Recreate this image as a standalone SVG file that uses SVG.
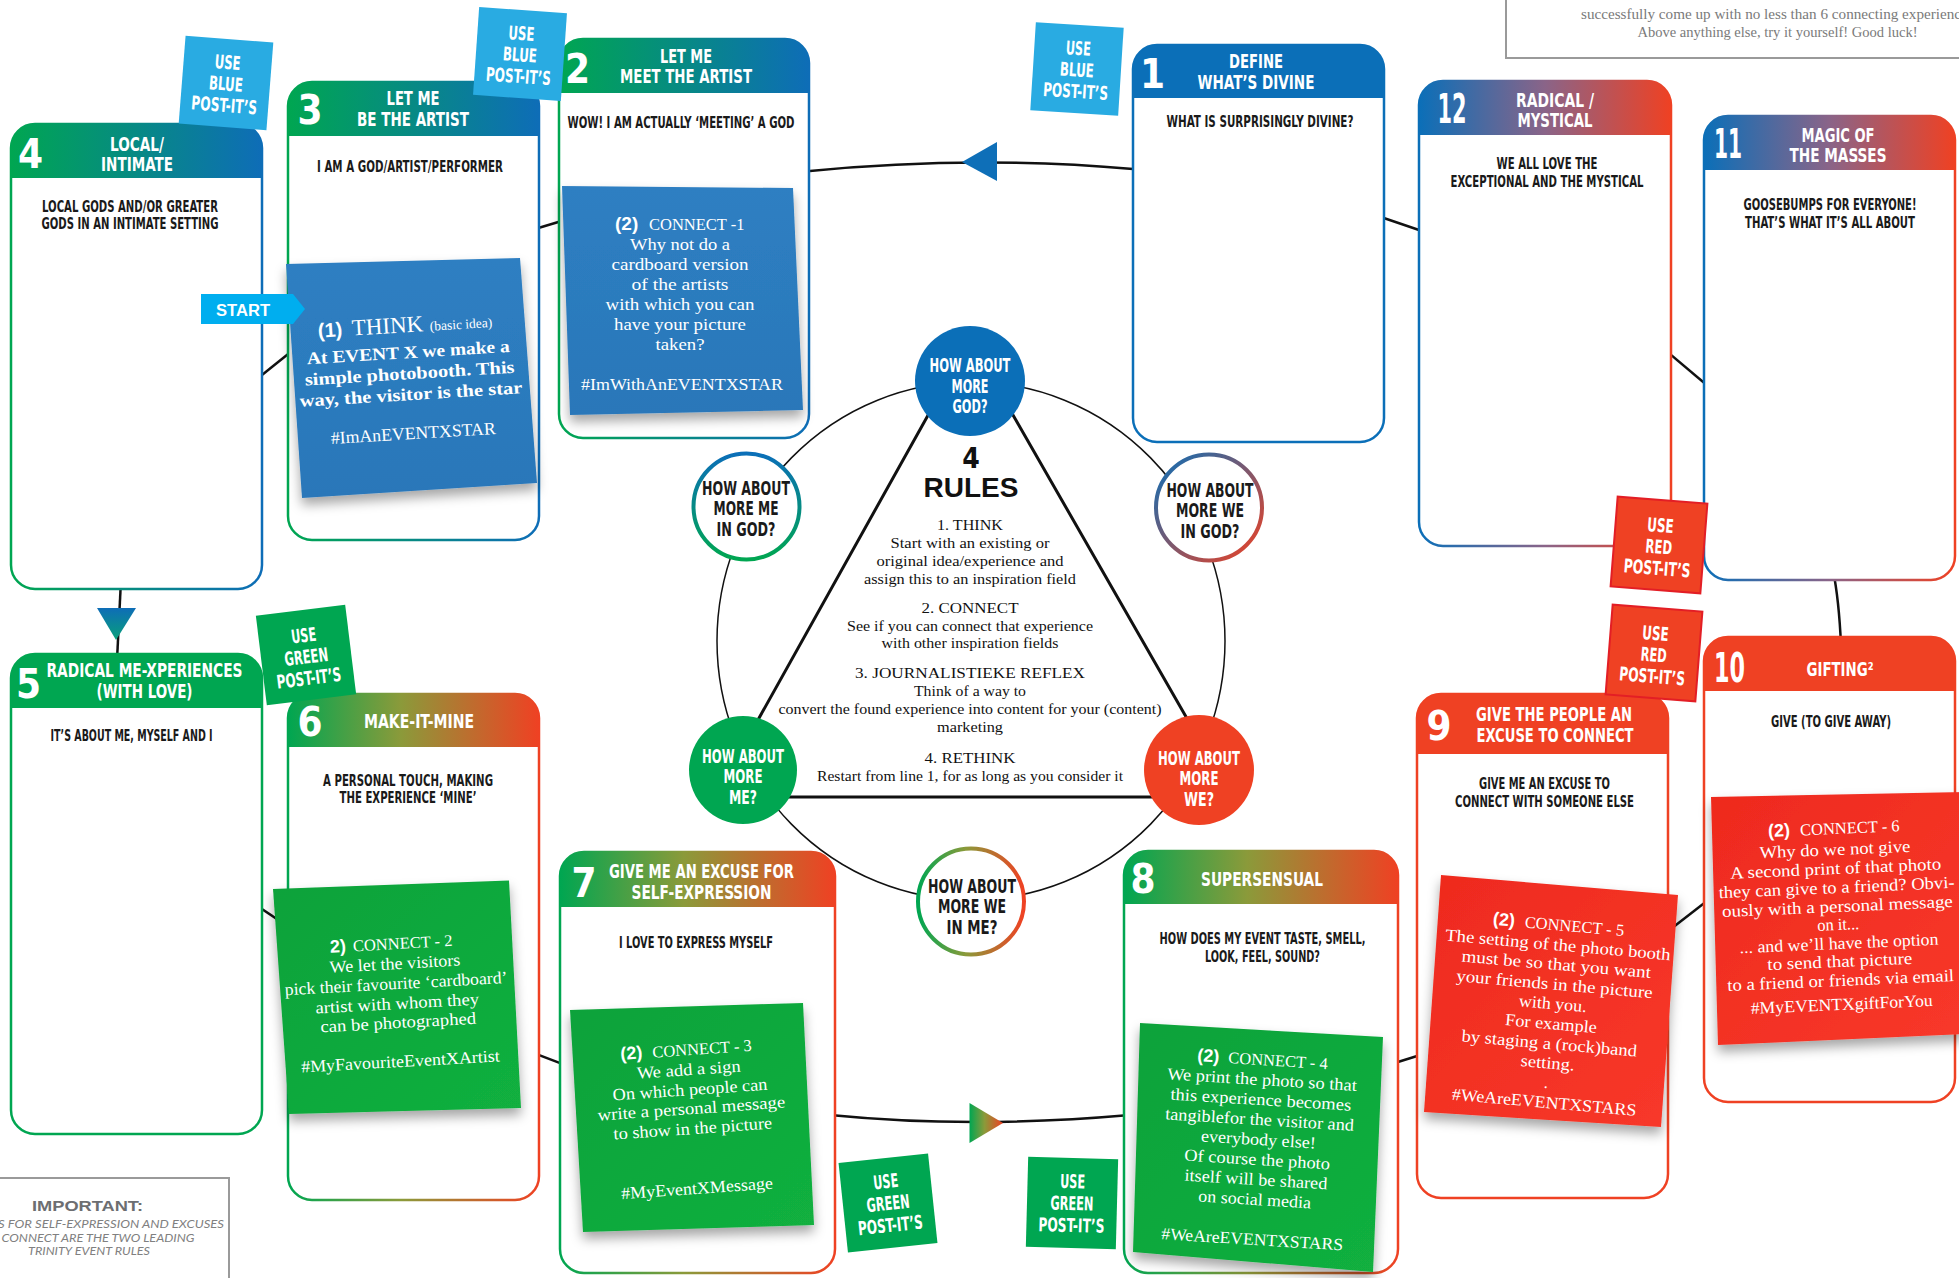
<svg xmlns="http://www.w3.org/2000/svg" width="1959" height="1278" viewBox="0 0 1959 1278">
<style>
.c{font-family:"Liberation Sans Narrow","DejaVu Sans Condensed","Liberation Sans",sans-serif;font-weight:700}
.w{fill:#fff}
.k{fill:#1a1a1a}
.n{font-size:40px}
.t{font-size:19px}
.u{font-size:15.5px}
.m{text-anchor:middle}
.e{text-anchor:end}
.sf{font-family:"Liberation Serif","DejaVu Serif",serif}
.pb{font-family:"Liberation Sans","DejaVu Sans",sans-serif;font-weight:700}
.p{font-size:17px}
.lab{font-size:19px}
.card{fill:#fff;stroke-width:2.5}
.ln{fill:none;stroke:#111;stroke-width:2.5}
.note{filter:url(#sh)}
.lb{fill:#29abe2}
.lg{fill:#00a651}
.lr{fill:#ef4123;stroke:#e31e25;stroke-width:2}
.nd{font-size:19px}
</style>
<defs>
<linearGradient id="gGB" x1="0" y1="0" x2="1" y2="0"><stop offset="0" stop-color="#00a651"/><stop offset="1" stop-color="#0e6db7"/></linearGradient>
<linearGradient id="gBR" x1="0" y1="0" x2="1" y2="0"><stop offset="0" stop-color="#0b6fb8"/><stop offset="0.5" stop-color="#8a6488"/><stop offset="1" stop-color="#ef4123"/></linearGradient>
<linearGradient id="gGR" x1="0" y1="0" x2="1" y2="0"><stop offset="0" stop-color="#00a651"/><stop offset="0.45" stop-color="#8b9a3a"/><stop offset="1" stop-color="#ef4123"/></linearGradient>
<linearGradient id="gVBG" x1="0" y1="0" x2="0" y2="1"><stop offset="0" stop-color="#0b6fb8"/><stop offset="1" stop-color="#00a651"/></linearGradient>
<linearGradient id="gDBR" x1="0" y1="0" x2="1" y2="1"><stop offset="0" stop-color="#0b6fb8"/><stop offset="1" stop-color="#ef4123"/></linearGradient>
<linearGradient id="gArrD" x1="0" y1="0" x2="0" y2="1"><stop offset="0" stop-color="#0e6db7"/><stop offset="1" stop-color="#08a07a"/></linearGradient>
<linearGradient id="pBlue" x1="0" y1="0" x2="0" y2="1"><stop offset="0" stop-color="#2e7fc2"/><stop offset="1" stop-color="#2a77b9"/></linearGradient>
<linearGradient id="pGreen" x1="0" y1="0" x2="1" y2="1"><stop offset="0" stop-color="#0ba23a"/><stop offset="1" stop-color="#12b03f"/></linearGradient>
<linearGradient id="pRed" x1="0" y1="0" x2="1" y2="1"><stop offset="0" stop-color="#ee2a1e"/><stop offset="1" stop-color="#f8382a"/></linearGradient>
<filter id="sh" x="-10%" y="-10%" width="125%" height="130%"><feDropShadow dx="0" dy="7" stdDeviation="6" flood-color="#000" flood-opacity="0.35"/></filter>
</defs>
<rect width="1959" height="1278" fill="#fff"/>

<!-- info boxes -->
<g id="info-top">
<rect x="1506" y="-5" width="465" height="63" fill="none" stroke="#9a9a9a" stroke-width="2"/>
<text class="sf" x="1581" y="19" font-size="14" fill="#7a7a7a" textLength="380" lengthAdjust="spacingAndGlyphs">successfully come up with no less than 6 connecting experienc</text>
<text class="sf m" x="1777.5" y="37" font-size="14" fill="#7a7a7a" textLength="280" lengthAdjust="spacingAndGlyphs">Above anything else, try it yourself! Good luck!</text>
</g>
<g id="info-important">
<rect x="-5" y="1178" width="234" height="110" fill="none" stroke="#9a9a9a" stroke-width="2"/>
<text class="pb m" x="87.5" y="1211" font-size="15" fill="#6d6e71" textLength="111" lengthAdjust="spacingAndGlyphs">IMPORTANT:</text>
<text x="224" y="1228" font-family="Lato,'Liberation Sans',sans-serif" font-style="italic" font-size="11" fill="#808080" text-anchor="end" textLength="226" lengthAdjust="spacingAndGlyphs">S FOR SELF-EXPRESSION AND EXCUSES</text>
<text x="98" y="1242" font-family="Lato,'Liberation Sans',sans-serif" font-style="italic" font-size="11" fill="#808080" text-anchor="middle" textLength="193" lengthAdjust="spacingAndGlyphs">CONNECT ARE THE TWO LEADING</text>
<text x="89" y="1254.5" font-family="Lato,'Liberation Sans',sans-serif" font-style="italic" font-size="11" fill="#808080" text-anchor="middle" textLength="122" lengthAdjust="spacingAndGlyphs">TRINITY EVENT RULES</text>
</g>

<!-- connectors -->
<g id="connectors">
<path class="ln" d="M1133,169 Q971,155 810,171"/>
<line class="ln" x1="570" y1="218.5" x2="525" y2="232"/>
<line class="ln" x1="300" y1="344.6" x2="250" y2="384.6"/>
<line class="ln" x1="121" y1="580" x2="117" y2="660"/>
<line class="ln" x1="250" y1="901" x2="290" y2="927.7"/>
<line class="ln" x1="530" y1="1051.6" x2="570" y2="1066.8"/>
<path class="ln" d="M830,1115 Q971,1129 1130,1115"/>
<line class="ln" x1="1385" y1="1066" x2="1430" y2="1052"/>
<line class="ln" x1="1665" y1="933.6" x2="1715" y2="894.7"/>
<path class="ln" d="M1841,645 Q1839,600 1833,570"/>
<line class="ln" x1="1715" y1="392" x2="1660" y2="345.6"/>
<line class="ln" x1="1430" y1="233.8" x2="1372" y2="214"/>
<polygon points="962,162 997,142 997,181" fill="#0e6fb8"/>
<polygon points="97,608 136,608 116,640" fill="url(#gArrD)"/>
<polygon points="969.5,1103 1003,1123 969.5,1143" fill="url(#gGR)"/>
</g>

<!-- central diagram -->
<g id="rules-circle">
<ellipse cx="971" cy="641" rx="254" ry="259" fill="none" stroke="#111" stroke-width="1.5"/>
<polygon points="970,340 715,797 1232,797" fill="none" stroke="#111" stroke-width="3"/>
</g>
<g id="node-more-god">
<circle cx="970" cy="381" r="55" fill="#0b6fb8"/>
<g class="c w m nd">
<text x="970" y="372" textLength="81" lengthAdjust="spacingAndGlyphs">HOW ABOUT</text>
<text x="970" y="392.5" textLength="37" lengthAdjust="spacingAndGlyphs">MORE</text>
<text x="970" y="413" textLength="35" lengthAdjust="spacingAndGlyphs">GOD?</text>
</g>
</g>
<g id="node-more-me-in-god">
<circle cx="746.5" cy="506.5" r="53" fill="#fff" stroke="url(#gVBG)" stroke-width="4"/>
<g class="c k m nd">
<text x="746" y="494.5" textLength="88" lengthAdjust="spacingAndGlyphs">HOW ABOUT</text>
<text x="746" y="515" textLength="65" lengthAdjust="spacingAndGlyphs">MORE ME</text>
<text x="746" y="535.5" textLength="59" lengthAdjust="spacingAndGlyphs">IN GOD?</text>
</g>
</g>
<g id="node-more-we-in-god">
<circle cx="1209" cy="507.5" r="53" fill="#fff" stroke="url(#gDBR)" stroke-width="4"/>
<g class="c k m nd">
<text x="1210" y="496.5" textLength="87" lengthAdjust="spacingAndGlyphs">HOW ABOUT</text>
<text x="1210" y="517" textLength="68" lengthAdjust="spacingAndGlyphs">MORE WE</text>
<text x="1210" y="537.5" textLength="59" lengthAdjust="spacingAndGlyphs">IN GOD?</text>
</g>
</g>
<g id="node-more-me">
<circle cx="743" cy="770" r="54" fill="#00a651"/>
<g class="c w m nd">
<text x="743" y="762.5" textLength="82" lengthAdjust="spacingAndGlyphs">HOW ABOUT</text>
<text x="743" y="783" textLength="39" lengthAdjust="spacingAndGlyphs">MORE</text>
<text x="743" y="803.5" textLength="28" lengthAdjust="spacingAndGlyphs">ME?</text>
</g>
</g>
<g id="node-more-we">
<circle cx="1199" cy="770" r="55" fill="#ef4123"/>
<g class="c w m nd">
<text x="1199" y="764.5" textLength="82" lengthAdjust="spacingAndGlyphs">HOW ABOUT</text>
<text x="1199" y="785" textLength="39" lengthAdjust="spacingAndGlyphs">MORE</text>
<text x="1199" y="805.5" textLength="30" lengthAdjust="spacingAndGlyphs">WE?</text>
</g>
</g>
<g id="node-more-we-in-me">
<circle cx="971" cy="901.5" r="53" fill="#fff" stroke="url(#gGR)" stroke-width="4"/>
<g class="c k m nd">
<text x="972" y="892.5" textLength="88" lengthAdjust="spacingAndGlyphs">HOW ABOUT</text>
<text x="972" y="913" textLength="68" lengthAdjust="spacingAndGlyphs">MORE WE</text>
<text x="972" y="933.5" textLength="51" lengthAdjust="spacingAndGlyphs">IN ME?</text>
</g>
</g>
<g id="rules-text" class="m" fill="#111">
<text class="c" x="971" y="468" font-size="28">4</text>
<text class="pb" x="971" y="497" font-size="28" textLength="95" lengthAdjust="spacingAndGlyphs">RULES</text>
<g class="sf">
<text x="970" y="530" font-size="15.5" textLength="66" lengthAdjust="spacingAndGlyphs">1. THINK</text>
<text x="970" y="548" font-size="14" textLength="159" lengthAdjust="spacingAndGlyphs">Start with an existing or</text>
<text x="970" y="566" font-size="14" textLength="187" lengthAdjust="spacingAndGlyphs">original idea/experience and</text>
<text x="970" y="584" font-size="14" textLength="212" lengthAdjust="spacingAndGlyphs">assign this to an inspiration field</text>
<text x="970" y="613" font-size="15.5" textLength="97" lengthAdjust="spacingAndGlyphs">2. CONNECT</text>
<text x="970" y="631" font-size="14" textLength="246" lengthAdjust="spacingAndGlyphs">See if you can connect that experience</text>
<text x="970" y="648" font-size="14" textLength="177" lengthAdjust="spacingAndGlyphs">with other inspiration fields</text>
<text x="970" y="678" font-size="15.5" textLength="230" lengthAdjust="spacingAndGlyphs">3. JOURNALISTIEKE REFLEX</text>
<text x="970" y="696" font-size="14" textLength="112" lengthAdjust="spacingAndGlyphs">Think of a way to</text>
<text x="970" y="714" font-size="14" textLength="383" lengthAdjust="spacingAndGlyphs">convert the found experience into content for your (content)</text>
<text x="970" y="732" font-size="14" textLength="66" lengthAdjust="spacingAndGlyphs">marketing</text>
<text x="970" y="763" font-size="15.5" textLength="91" lengthAdjust="spacingAndGlyphs">4. RETHINK</text>
<text x="970" y="781" font-size="14" textLength="306" lengthAdjust="spacingAndGlyphs">Restart from line 1, for as long as you consider it</text>
</g>
</g>

<!-- cards -->
<g id="card-4">
<rect class="card" x="11" y="124" width="251" height="465" rx="24" stroke="url(#gGB)"/>
<path d="M11,178 V148 A24,24 0 0 1 35,124 H238 A24,24 0 0 1 262,148 V178 Z" fill="url(#gGB)"/>
<text class="c w n m" x="30.5" y="168">4</text>
<text class="c w t m" x="137" y="150.5" textLength="54" lengthAdjust="spacingAndGlyphs">LOCAL/</text>
<text class="c w t m" x="137" y="171" textLength="72" lengthAdjust="spacingAndGlyphs">INTIMATE</text>
<text class="c k u m" x="130" y="211.5" textLength="176" lengthAdjust="spacingAndGlyphs">LOCAL GODS AND/OR GREATER</text>
<text class="c k u m" x="130" y="229" textLength="177" lengthAdjust="spacingAndGlyphs">GODS IN AN INTIMATE SETTING</text>
</g>
<g id="card-3">
<rect class="card" x="288" y="82" width="251" height="458" rx="24" stroke="url(#gGB)"/>
<path d="M288,136 V106 A24,24 0 0 1 312,82 H515 A24,24 0 0 1 539,106 V136 Z" fill="url(#gGB)"/>
<text class="c w n m" x="310" y="124">3</text>
<text class="c w t m" x="413" y="105" textLength="53" lengthAdjust="spacingAndGlyphs">LET ME</text>
<text class="c w t m" x="413" y="126" textLength="112" lengthAdjust="spacingAndGlyphs">BE THE ARTIST</text>
<text class="c k u m" x="410" y="172" textLength="186" lengthAdjust="spacingAndGlyphs">I AM A GOD/ARTIST/PERFORMER</text>
</g>
<g id="card-2">
<rect class="card" x="559" y="39" width="250" height="399" rx="24" stroke="url(#gGB)"/>
<path d="M559,93 V63 A24,24 0 0 1 583,39 H785 A24,24 0 0 1 809,63 V93 Z" fill="url(#gGB)"/>
<text class="c w n m" x="577.6" y="83">2</text>
<text class="c w t m" x="686" y="62.5" textLength="52" lengthAdjust="spacingAndGlyphs">LET ME</text>
<text class="c w t m" x="686" y="83" textLength="132" lengthAdjust="spacingAndGlyphs">MEET THE ARTIST</text>
<text class="c k u m" x="681" y="128" textLength="227" lengthAdjust="spacingAndGlyphs">WOW! I AM ACTUALLY ‘MEETING’ A GOD</text>
</g>
<g id="card-1">
<rect class="card" x="1133" y="45" width="251" height="397" rx="24" stroke="#0b6fb8"/>
<path d="M1133,98 V69 A24,24 0 0 1 1157,45 H1360 A24,24 0 0 1 1384,69 V98 Z" fill="#0b6fb8"/>
<text class="c w n m" x="1152.5" y="88">1</text>
<text class="c w t m" x="1256" y="68" textLength="54" lengthAdjust="spacingAndGlyphs">DEFINE</text>
<text class="c w t m" x="1256" y="89" textLength="117" lengthAdjust="spacingAndGlyphs">WHAT’S DIVINE</text>
<text class="c k u m" x="1260" y="127" textLength="187" lengthAdjust="spacingAndGlyphs">WHAT IS SURPRISINGLY DIVINE?</text>
</g>
<g id="card-12">
<rect class="card" x="1419" y="81" width="252" height="465" rx="24" stroke="url(#gBR)"/>
<path d="M1419,135 V105 A24,24 0 0 1 1443,81 H1647 A24,24 0 0 1 1671,105 V135 Z" fill="url(#gBR)"/>
<text class="c w n m" x="1452" y="123" textLength="29" lengthAdjust="spacingAndGlyphs">12</text>
<text class="c w t m" x="1555" y="106.5" textLength="78" lengthAdjust="spacingAndGlyphs">RADICAL /</text>
<text class="c w t m" x="1555" y="127" textLength="75" lengthAdjust="spacingAndGlyphs">MYSTICAL</text>
<text class="c k u m" x="1547" y="168.5" textLength="101" lengthAdjust="spacingAndGlyphs">WE ALL LOVE THE</text>
<text class="c k u m" x="1547" y="186.5" textLength="193" lengthAdjust="spacingAndGlyphs">EXCEPTIONAL AND THE MYSTICAL</text>
</g>
<g id="card-11">
<rect class="card" x="1704" y="116" width="251" height="464" rx="24" stroke="url(#gBR)"/>
<path d="M1704,170 V140 A24,24 0 0 1 1728,116 H1931 A24,24 0 0 1 1955,140 V170 Z" fill="url(#gBR)"/>
<text class="c w n m" x="1728" y="158" textLength="28" lengthAdjust="spacingAndGlyphs">11</text>
<text class="c w t m" x="1838" y="141.5" textLength="73" lengthAdjust="spacingAndGlyphs">MAGIC OF</text>
<text class="c w t m" x="1838" y="162" textLength="97" lengthAdjust="spacingAndGlyphs">THE MASSES</text>
<text class="c k u m" x="1830" y="209.5" textLength="173" lengthAdjust="spacingAndGlyphs">GOOSEBUMPS FOR EVERYONE!</text>
<text class="c k u m" x="1830" y="227.5" textLength="170" lengthAdjust="spacingAndGlyphs">THAT’S WHAT IT’S ALL ABOUT</text>
</g>
<g id="card-10">
<rect class="card" x="1704" y="637" width="251" height="465" rx="24" stroke="#ef4123"/>
<path d="M1704,691 V661 A24,24 0 0 1 1728,637 H1931 A24,24 0 0 1 1955,661 V691 Z" fill="#ef4123"/>
<text class="c w n m" x="1729.5" y="682" textLength="31" lengthAdjust="spacingAndGlyphs">10</text>
<text class="c w t" x="1806.5" y="676" textLength="67" lengthAdjust="spacingAndGlyphs">GIFTING²</text>
<text class="c k u m" x="1831" y="727" textLength="120" lengthAdjust="spacingAndGlyphs">GIVE (TO GIVE AWAY)</text>
</g>
<g id="card-9">
<rect class="card" x="1417" y="694" width="251" height="504" rx="24" stroke="#ef4123"/>
<path d="M1417,754 V718 A24,24 0 0 1 1441,694 H1644 A24,24 0 0 1 1668,718 V754 Z" fill="#ef4123"/>
<text class="c w n m" x="1439" y="740">9</text>
<text class="c w t m" x="1554" y="721" textLength="156" lengthAdjust="spacingAndGlyphs">GIVE THE PEOPLE AN</text>
<text class="c w t m" x="1555" y="741.5" textLength="157" lengthAdjust="spacingAndGlyphs">EXCUSE TO CONNECT</text>
<text class="c k u m" x="1544.5" y="789" textLength="131" lengthAdjust="spacingAndGlyphs">GIVE ME AN EXCUSE TO</text>
<text class="c k u m" x="1544.5" y="807" textLength="179" lengthAdjust="spacingAndGlyphs">CONNECT WITH SOMEONE ELSE</text>
</g>
<g id="card-8">
<rect class="card" x="1124" y="851" width="274" height="422" rx="24" stroke="url(#gGR)"/>
<path d="M1124,904 V875 A24,24 0 0 1 1148,851 H1374 A24,24 0 0 1 1398,875 V904 Z" fill="url(#gGR)"/>
<text class="c w n m" x="1143" y="893">8</text>
<text class="c w t m" x="1262" y="886" textLength="122" lengthAdjust="spacingAndGlyphs">SUPERSENSUAL</text>
<text class="c k u m" x="1262.5" y="944" textLength="206" lengthAdjust="spacingAndGlyphs">HOW DOES MY EVENT TASTE, SMELL,</text>
<text class="c k u m" x="1262.5" y="962" textLength="115" lengthAdjust="spacingAndGlyphs">LOOK, FEEL, SOUND?</text>
</g>
<g id="card-7">
<rect class="card" x="560" y="852" width="275" height="421" rx="24" stroke="url(#gGR)"/>
<path d="M560,907 V876 A24,24 0 0 1 584,852 H811 A24,24 0 0 1 835,876 V907 Z" fill="url(#gGR)"/>
<text class="c w n m" x="584" y="897">7</text>
<text class="c w t m" x="701.5" y="878" textLength="185" lengthAdjust="spacingAndGlyphs">GIVE ME AN EXCUSE FOR</text>
<text class="c w t m" x="701.5" y="899" textLength="140" lengthAdjust="spacingAndGlyphs">SELF-EXPRESSION</text>
<text class="c k u m" x="696" y="948" textLength="154" lengthAdjust="spacingAndGlyphs">I LOVE TO EXPRESS MYSELF</text>
</g>
<g id="card-6">
<rect class="card" x="288" y="694" width="251" height="506" rx="24" stroke="url(#gGR)"/>
<path d="M288,747 V718 A24,24 0 0 1 312,694 H515 A24,24 0 0 1 539,718 V747 Z" fill="url(#gGR)"/>
<text class="c w n m" x="310" y="736">6</text>
<text class="c w t m" x="419" y="728" textLength="110" lengthAdjust="spacingAndGlyphs">MAKE-IT-MINE</text>
<text class="c k u m" x="408" y="785.5" textLength="170" lengthAdjust="spacingAndGlyphs">A PERSONAL TOUCH, MAKING</text>
<text class="c k u m" x="408" y="803" textLength="137" lengthAdjust="spacingAndGlyphs">THE EXPERIENCE ‘MINE’</text>
</g>
<g id="card-5">
<rect class="card" x="11" y="654" width="251" height="480" rx="24" stroke="#00a651"/>
<path d="M11,708 V678 A24,24 0 0 1 35,654 H238 A24,24 0 0 1 262,678 V708 Z" fill="#00a651"/>
<text class="c w n m" x="28.5" y="698">5</text>
<text class="c w t m" x="144.5" y="677" textLength="196" lengthAdjust="spacingAndGlyphs">RADICAL ME-XPERIENCES</text>
<text class="c w t m" x="144.5" y="698" textLength="96" lengthAdjust="spacingAndGlyphs">(WITH LOVE)</text>
<text class="c k u m" x="131.6" y="741" textLength="162" lengthAdjust="spacingAndGlyphs">IT’S ABOUT ME, MYSELF AND I</text>
</g>

<!-- content post-its -->
<g id="note-think">
<polygon class="note" points="286,264 520,258 537,483 302,498" fill="url(#pBlue)"/>
<g transform="translate(411 380) rotate(-3.5)" fill="#fff">
<text y="-48"><tspan x="-90" class="pb" font-size="20">(1)</tspan><tspan x="-56" class="sf" font-size="23">THINK</tspan><tspan x="22" class="sf" font-size="13.5">(basic idea)</tspan></text>
<g class="sf m" font-weight="700" font-size="17.5">
<text x="-1" y="-22" textLength="203" lengthAdjust="spacingAndGlyphs">At EVENT X we make a</text>
<text x="-1" y="-1" textLength="210" lengthAdjust="spacingAndGlyphs">simple photobooth. This</text>
<text x="-1" y="20" textLength="223" lengthAdjust="spacingAndGlyphs">way, the visitor is the star</text>
<text x="-1" y="59" font-weight="400" textLength="165" lengthAdjust="spacingAndGlyphs">#ImAnEVENTXSTAR</text>
</g>
</g>
</g>
<g id="note-connect-1">
<polygon class="note" points="562,186 793,188 803,410 570,415" fill="url(#pBlue)"/>
<g fill="#fff">
<text y="230"><tspan x="615" class="pb" font-size="19">(2)</tspan><tspan x="649" class="sf" font-size="16.5">CONNECT -1</tspan></text>
<g class="sf m p">
<text x="680" y="250" textLength="100" lengthAdjust="spacingAndGlyphs">Why not do a</text>
<text x="680" y="270" textLength="137" lengthAdjust="spacingAndGlyphs">cardboard version</text>
<text x="680" y="290" textLength="97" lengthAdjust="spacingAndGlyphs">of the artists</text>
<text x="680" y="310" textLength="149" lengthAdjust="spacingAndGlyphs">with which you can</text>
<text x="680" y="330" textLength="132" lengthAdjust="spacingAndGlyphs">have your picture</text>
<text x="680" y="350" textLength="49" lengthAdjust="spacingAndGlyphs">taken?</text>
<text x="682" y="390" textLength="202" lengthAdjust="spacingAndGlyphs">#ImWithAnEVENTXSTAR</text>
</g>
</g>
</g>
<g id="note-connect-2">
<polygon class="note" points="273,889 509,880.5 521,1108 289,1114" fill="url(#pGreen)"/>
<g transform="translate(398 1000) rotate(-3.2)" fill="#fff">
<text y="-51"><tspan x="-65" class="pb" font-size="18">2)</tspan><tspan x="-42" class="sf" font-size="16.5">CONNECT - 2</tspan></text>
<g class="sf m p">
<text x="-1" y="-31" textLength="131" lengthAdjust="spacingAndGlyphs">We let the visitors</text>
<text x="-1" y="-11" textLength="223" lengthAdjust="spacingAndGlyphs">pick their favourite ‘cardboard’</text>
<text x="-1" y="9" textLength="164" lengthAdjust="spacingAndGlyphs">artist with whom they</text>
<text x="-1" y="28" textLength="156" lengthAdjust="spacingAndGlyphs">can be photographed</text>
<text x="-1" y="67" textLength="199" lengthAdjust="spacingAndGlyphs">#MyFavouriteEventXArtist</text>
</g>
</g>
</g>
<g id="note-connect-3">
<polygon class="note" points="570,1010 803,1003 814,1225 583,1232" fill="url(#pGreen)"/>
<g transform="translate(693 1118) rotate(-4)" fill="#fff">
<text y="-63"><tspan x="-68" class="pb" font-size="18">(2)</tspan><tspan x="-36" class="sf" font-size="16.5">CONNECT - 3</tspan></text>
<g class="sf m p">
<text x="-1" y="-43" textLength="104" lengthAdjust="spacingAndGlyphs">We add a sign</text>
<text x="-1" y="-23" textLength="155" lengthAdjust="spacingAndGlyphs">On which people can</text>
<text x="-1" y="-4" textLength="188" lengthAdjust="spacingAndGlyphs">write a personal message</text>
<text x="-1" y="16" textLength="159" lengthAdjust="spacingAndGlyphs">to show in the picture</text>
<text x="-1" y="76" textLength="152" lengthAdjust="spacingAndGlyphs">#MyEventXMessage</text>
</g>
</g>
</g>
<g id="note-connect-4">
<polygon class="note" points="1140,1023 1383,1037 1373,1272 1133,1252" fill="url(#pGreen)"/>
<g transform="translate(1257 1146) rotate(3.5)" fill="#fff">
<text y="-81"><tspan x="-65" class="pb" font-size="18">(2)</tspan><tspan x="-34" class="sf" font-size="16.5">CONNECT - 4</tspan></text>
<g class="sf m p">
<text x="1" y="-61" textLength="190" lengthAdjust="spacingAndGlyphs">We print the photo so that</text>
<text x="1" y="-41" textLength="181" lengthAdjust="spacingAndGlyphs">this experience becomes</text>
<text x="1" y="-21" textLength="189" lengthAdjust="spacingAndGlyphs">tangiblefor the visitor and</text>
<text x="1" y="-1" textLength="115" lengthAdjust="spacingAndGlyphs">everybody else!</text>
<text x="1" y="19" textLength="146" lengthAdjust="spacingAndGlyphs">Of course the photo</text>
<text x="1" y="39" textLength="143" lengthAdjust="spacingAndGlyphs">itself will be shared</text>
<text x="1" y="59" textLength="113" lengthAdjust="spacingAndGlyphs">on social media</text>
<text x="1" y="99" textLength="182" lengthAdjust="spacingAndGlyphs">#WeAreEVENTXSTARS</text>
</g>
</g>
</g>
<g id="note-connect-5">
<polygon class="note" points="1441,875 1678,895 1661,1127 1424,1112" fill="url(#pRed)"/>
<g transform="translate(1551 1002) rotate(5)" fill="#fff">
<text y="-72"><tspan x="-65" class="pb" font-size="18">(2)</tspan><tspan x="-33" class="sf" font-size="16.5">CONNECT - 5</tspan></text>
<g class="sf m p">
<text x="2" y="-52" textLength="226" lengthAdjust="spacingAndGlyphs">The setting of the photo booth</text>
<text x="2" y="-32.5" textLength="190" lengthAdjust="spacingAndGlyphs">must be so that you want</text>
<text x="2" y="-12.5" textLength="197" lengthAdjust="spacingAndGlyphs">your friends in the picture</text>
<text x="2" y="7" textLength="68" lengthAdjust="spacingAndGlyphs">with you.</text>
<text x="2" y="27" textLength="92" lengthAdjust="spacingAndGlyphs">For example</text>
<text x="2" y="47" textLength="176" lengthAdjust="spacingAndGlyphs">by staging a (rock)band</text>
<text x="2" y="66.5" textLength="54" lengthAdjust="spacingAndGlyphs">setting.</text>
<text x="2" y="86">.</text>
<text x="2" y="106" textLength="185" lengthAdjust="spacingAndGlyphs">#WeAreEVENTXSTARS</text>
</g>
</g>
</g>
<g id="note-connect-6">
<polygon class="note" points="1711,797 1965,792 1965,1034 1718,1045" fill="url(#pRed)"/>
<g transform="translate(1838 920) rotate(-2.5)" fill="#fff">
<text y="-86"><tspan x="-66" class="pb" font-size="18">(2)</tspan><tspan x="-34" class="sf" font-size="16.5">CONNECT - 6</tspan></text>
<g class="sf m p">
<text x="0" y="-65" textLength="151" lengthAdjust="spacingAndGlyphs">Why do we not give</text>
<text x="0" y="-46" textLength="211" lengthAdjust="spacingAndGlyphs">A second print of that photo</text>
<text x="0" y="-27" textLength="236" lengthAdjust="spacingAndGlyphs">they can give to a friend? Obvi-</text>
<text x="0" y="-8" textLength="231" lengthAdjust="spacingAndGlyphs">ously with a personal message</text>
<text x="0" y="10" textLength="42" lengthAdjust="spacingAndGlyphs">on it...</text>
<text x="0" y="29" textLength="199" lengthAdjust="spacingAndGlyphs">... and we’ll have the option</text>
<text x="0" y="47" textLength="145" lengthAdjust="spacingAndGlyphs">to send that picture</text>
<text x="0" y="66" textLength="227" lengthAdjust="spacingAndGlyphs">to a friend or friends via email</text>
<text x="0" y="90" textLength="182" lengthAdjust="spacingAndGlyphs">#MyEVENTXgiftForYou</text>
</g>
</g>
</g>

<!-- USE POST-IT labels -->
<g id="label-blue-4" transform="translate(226 83) rotate(4.5)">
<rect class="lb" x="-44" y="-44" width="88" height="88"/>
<g class="c w m lab">
<text x="0" y="-14" textLength="26" lengthAdjust="spacingAndGlyphs">USE</text>
<text x="0" y="7.5" textLength="34" lengthAdjust="spacingAndGlyphs">BLUE</text>
<text x="0" y="29" textLength="66" lengthAdjust="spacingAndGlyphs">POST-IT’S</text>
</g>
</g>
<g id="label-blue-2" transform="translate(520 54) rotate(4)">
<rect class="lb" x="-44" y="-44" width="88" height="88"/>
<g class="c w m lab">
<text x="0" y="-14" textLength="26" lengthAdjust="spacingAndGlyphs">USE</text>
<text x="0" y="7.5" textLength="34" lengthAdjust="spacingAndGlyphs">BLUE</text>
<text x="0" y="29" textLength="65" lengthAdjust="spacingAndGlyphs">POST-IT’S</text>
</g>
</g>
<g id="label-blue-1" transform="translate(1077 69) rotate(3.6)">
<rect class="lb" x="-44" y="-44" width="88" height="88"/>
<g class="c w m lab">
<text x="0" y="-14" textLength="25" lengthAdjust="spacingAndGlyphs">USE</text>
<text x="0" y="7.5" textLength="34" lengthAdjust="spacingAndGlyphs">BLUE</text>
<text x="0" y="29" textLength="65" lengthAdjust="spacingAndGlyphs">POST-IT’S</text>
</g>
</g>
<g id="label-red-12" transform="translate(1659 545) rotate(4.5)">
<rect class="lr" x="-45" y="-45" width="90" height="90"/>
<g class="c w m lab">
<text x="0" y="-13" textLength="26.5" lengthAdjust="spacingAndGlyphs">USE</text>
<text x="0" y="8.5" textLength="26.5" lengthAdjust="spacingAndGlyphs">RED</text>
<text x="0" y="30" textLength="67" lengthAdjust="spacingAndGlyphs">POST-IT’S</text>
</g>
</g>
<g id="label-red-9" transform="translate(1654 653) rotate(4.5)">
<rect class="lr" x="-45" y="-45" width="90" height="90"/>
<g class="c w m lab">
<text x="0" y="-13" textLength="26.5" lengthAdjust="spacingAndGlyphs">USE</text>
<text x="0" y="8.5" textLength="26" lengthAdjust="spacingAndGlyphs">RED</text>
<text x="0" y="30" textLength="66" lengthAdjust="spacingAndGlyphs">POST-IT’S</text>
</g>
</g>
<g id="label-green-6" transform="translate(306 655) rotate(-7)">
<rect class="lg" x="-45" y="-45" width="90" height="90"/>
<g class="c w m lab">
<text x="0" y="-13" textLength="25" lengthAdjust="spacingAndGlyphs">USE</text>
<text x="0" y="8.5" textLength="44" lengthAdjust="spacingAndGlyphs">GREEN</text>
<text x="0" y="30" textLength="65" lengthAdjust="spacingAndGlyphs">POST-IT’S</text>
</g>
</g>
<g id="label-green-7" transform="translate(888 1203) rotate(-6)">
<rect class="lg" x="-45" y="-45" width="90" height="90"/>
<g class="c w m lab">
<text x="0" y="-15" textLength="25" lengthAdjust="spacingAndGlyphs">USE</text>
<text x="0" y="7" textLength="43" lengthAdjust="spacingAndGlyphs">GREEN</text>
<text x="0" y="29" textLength="65" lengthAdjust="spacingAndGlyphs">POST-IT’S</text>
</g>
</g>
<g id="label-green-8" transform="translate(1072 1203) rotate(1.5)">
<rect class="lg" x="-45" y="-45" width="90" height="90"/>
<g class="c w m lab">
<text x="0" y="-15" textLength="25" lengthAdjust="spacingAndGlyphs">USE</text>
<text x="0" y="7" textLength="43" lengthAdjust="spacingAndGlyphs">GREEN</text>
<text x="0" y="29" textLength="66" lengthAdjust="spacingAndGlyphs">POST-IT’S</text>
</g>
</g>

<g id="start">
<polygon points="201,294 293,294 305,309 293,324 201,324" fill="#00aeef"/>
<text class="pb w m" x="243" y="316" font-size="16" textLength="54" lengthAdjust="spacingAndGlyphs">START</text>
</g>
</svg>
